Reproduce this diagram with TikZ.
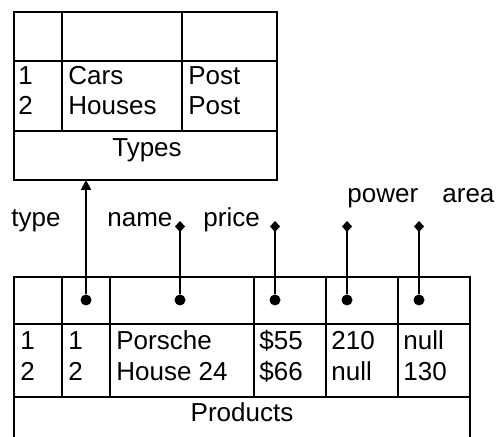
\documentclass[tikz,border=0pt]{standalone}
\usepackage{fontspec}
\setmainfont{Liberation Sans}
\usetikzlibrary{arrows.meta}
\begin{document}
\begin{tikzpicture}[x=0.5pt,y=-0.5pt,
  frame/.style={line width=1pt},
  txt/.style={anchor=base west, inner sep=0pt, font=\fontsize{13}{15}\selectfont},
  ttl/.style={anchor=base, inner sep=0pt, font=\fontsize{13}{15}\selectfont},
  link/.style={line width=1pt},
  attr/.style={line width=1pt, -{Diamond[length=5.5pt, width=5pt]}},
  dot/.style={circle, fill, inner sep=0pt, minimum size=5.5pt}]
\useasboundingbox (0,0) rectangle (497,437);

% Types table
\draw[frame] (14,12) rectangle (277,180);
\draw[frame] (14,61) -- (277,61) (14,131) -- (277,131);
\draw[frame] (62,12) -- (62,131) (182,12) -- (182,131);
\coordinate (tb) at (86,180);

\node[txt] (t11) at (18,85) {1};
\node[txt] (t21) at (18,115) {2};
\node[txt] (t12) at (68,85) {Cars};
\node[txt] (t22) at (68,115) {Houses};
\node[txt] (t13) at (188,85) {Post};
\node[txt] (t23) at (188,115) {Post};
\node[ttl] (types) at (147,157) {Types};

% Products table (open at the bottom)
\draw[frame] (14,437) -- (14,277) -- (470,277) -- (470,437);
\draw[frame] (14,324) -- (470,324) (14,397) -- (470,397);
\foreach \cx in {62,110,254,326,398}
  \draw[frame] (\cx,277) -- (\cx,397);

\node[txt] (p11) at (20,350) {1};
\node[txt] (p21) at (20,380) {2};
\node[txt] (p12) at (68,350) {1};
\node[txt] (p22) at (68,380) {2};
\node[txt] (p13) at (116,350) {Porsche};
\node[txt] (p23) at (116,380) {House 24};
\node[txt] (p14) at (259,350) {\$55};
\node[txt] (p24) at (259,380) {\$66};
\node[txt] (p15) at (331,350) {210};
\node[txt] (p25) at (331,380) {null};
\node[txt] (p16) at (403,350) {null};
\node[txt] (p26) at (403,380) {130};
\node[ttl] (products) at (242,422) {Products};

% column labels
\node[txt] (ltype)  at (11,227)  {type};
\node[txt] (lname)  at (107,227) {name};
\node[txt] (lprice) at (203,227) {price};
\node[txt] (lpower) at (347,203) {power};
\node[txt] (larea)  at (442,203) {area};

% column markers
\node[dot] (dtype)  at (86,300)  {};
\node[dot] (dname)  at (180,300) {};
\node[dot] (dprice) at (275,300) {};
\node[dot] (dpower) at (347,300) {};
\node[dot] (darea)  at (419,300) {};

\coordinate (ename)  at (180,221);
\coordinate (eprice) at (275,221);
\coordinate (epower) at (347,221);
\coordinate (earea)  at (419,221);

% references
\draw[link, -{Triangle[length=5pt, width=5pt]}] (dtype) -- (tb);
\draw[attr] (dname) -- (ename);
\draw[attr] (dprice) -- (eprice);
\draw[attr] (dpower) -- (epower);
\draw[attr] (darea) -- (earea);
\end{tikzpicture}
\end{document}
